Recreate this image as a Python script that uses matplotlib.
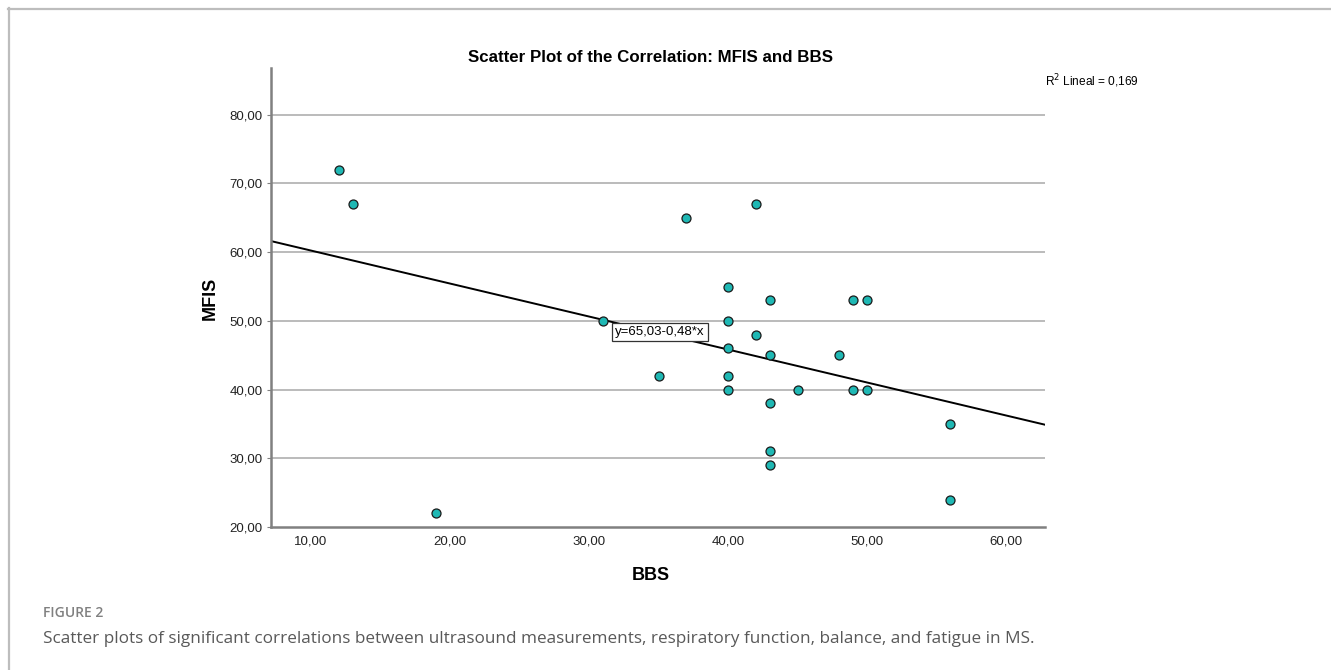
import matplotlib.pyplot as plt
from matplotlib.ticker import FuncFormatter, MultipleLocator
from matplotlib.lines import Line2D
import numpy as np

plt.rcParams['font.family'] = ['Liberation Sans', 'DejaVu Sans']

# BBS vs MFIS
bbs = [12, 13, 19, 31, 35, 37, 40, 40, 40, 40, 40, 42, 42, 43, 43, 43, 43, 43,
       45, 48, 49, 50, 49, 50, 56, 56]
mfis = [72, 67, 22, 50, 42, 65, 55, 50, 46, 42, 40, 67, 48, 53, 45, 38, 31, 29,
        40, 45, 53, 53, 40, 40, 35, 24]
intercept = 65.03
slope = -0.48
r2 = 0.169

W, H = 1331, 670
fig = plt.figure(figsize=(W / 100, H / 100), dpi=100)

# panel frame (top and left edge)
fig.add_artist(Line2D([8 / W, 1], [1 - 8.5 / H, 1 - 8.5 / H], color='#bdbdbd', lw=1.6))
fig.add_artist(Line2D([8.5 / W, 8.5 / W], [0, 1 - 8 / H], color='#bdbdbd', lw=1.6))

def px(l, t, r, b):
    return [l / W, 1 - b / H, (r - l) / W, (b - t) / H]

ax = fig.add_axes(px(271, 68, 1045, 527))
ax.set_xlim(7.12, 62.8)
ax.set_ylim(20, 86.8)

for g in range(30, 81, 10):
    ax.axhline(g, color='#a8a8a8', lw=1.1, zorder=1)

xs = np.array(ax.get_xlim())
ax.plot(xs, intercept + slope * xs, color='black', lw=1.4, zorder=2)

ax.scatter(bbs, mfis, s=42, facecolor='#1fb8b4', edgecolor='#1a1a1a',
           linewidth=0.9, zorder=3)

for s in ['top', 'right']:
    ax.spines[s].set_visible(False)
for s in ['left', 'bottom']:
    ax.spines[s].set_color('#808080')
    ax.spines[s].set_linewidth(1.8)

comma = FuncFormatter(lambda v, p: f"{v:.2f}".replace('.', ','))
ax.xaxis.set_major_locator(MultipleLocator(10))
ax.set_yticks(range(20, 81, 10))
ax.xaxis.set_major_formatter(comma)
ax.yaxis.set_major_formatter(comma)
ax.tick_params(axis='both', length=0, labelsize=9.5, colors='#222222', pad=6)
ax.tick_params(axis='y', length=3, color='#808080', pad=3)

eq = f"y={intercept:.2f}{slope:.2f}*x".replace('.', ',')
ax.text(31.9, 48.35, eq, fontsize=9.5, va='center', ha='left', zorder=4,
        bbox=dict(boxstyle='square,pad=0.25', facecolor='white',
                  edgecolor='#333333', linewidth=0.9))

fig.text(651 / W, 1 - 57 / H, 'Scatter Plot of the Correlation: MFIS and BBS',
         ha='center', va='center', fontsize=12.2, fontweight='bold')
fig.text(1045 / W, 1 - 81 / H, f"R$^2$ Lineal = {r2:.3f}".replace('.', ','),
         ha='left', va='center', fontsize=8.6)
fig.text(651 / W, 1 - 576 / H, 'BBS', ha='center', va='center',
         fontsize=13, fontweight='bold')
fig.text(210 / W, 1 - 298 / H, 'MFIS', ha='center', va='center',
         fontsize=13, fontweight='bold', rotation=90)

fig.text(43 / W, 1 - 613 / H, 'FIGURE 2', ha='left', va='center',
         fontsize=10, fontweight='semibold', color='#808080',
         family=['Open Sans', 'DejaVu Sans'])
fig.text(43 / W, 1 - 639 / H,
         'Scatter plots of significant correlations between ultrasound measurements, '
         'respiratory function, balance, and fatigue in MS.',
         ha='left', va='center', fontsize=12.3, color='#595959',
         family=['Open Sans', 'DejaVu Sans'])

fig.savefig('out.png', dpi=100)
